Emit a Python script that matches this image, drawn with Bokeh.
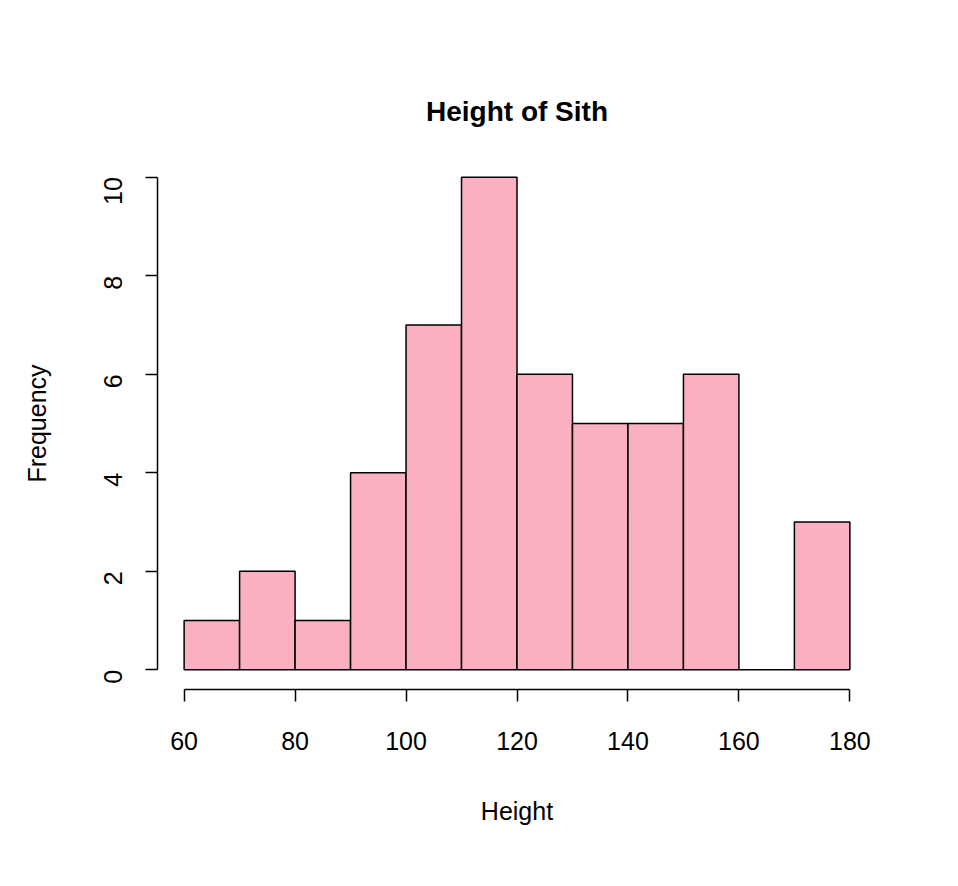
import math
from bokeh.plotting import figure
from bokeh.models import Range1d, FixedTicker
from bokeh.embed import file_html
from bokeh.resources import INLINE

# histogram of heights, bins of 10
bin_left = [60, 70, 80, 90, 100, 110, 120, 130, 140, 150, 160, 170]
bin_right = [70, 80, 90, 100, 110, 120, 130, 140, 150, 160, 170, 180]
counts = [1, 2, 1, 4, 7, 10, 6, 5, 5, 6, 0, 3]
x_ticks = [60, 80, 100, 120, 140, 160, 180]
y_ticks = [0, 2, 4, 6, 8, 10]

FONT = "Liberation Sans"

p = figure(width=942, height=870, output_backend="svg", toolbar_location=None,
           x_range=Range1d(55.2, 184.8), y_range=Range1d(-0.4, 10.4),
           min_border_left=157, min_border_right=66, min_border_top=157, min_border_bottom=181,
           title="Height of Sith")
p.outline_line_color = None
p.grid.visible = False
p.background_fill_color = "white"

p.title.align = "center"
p.title.text_font = FONT
p.title.text_font_size = "28px"
p.title.text_font_style = "bold"
p.title.text_color = "black"
p.title.standoff = 62

p.quad(left=bin_left, right=bin_right, bottom=0, top=counts,
       fill_color="#FBB0C2", line_color="black", line_width=1.5)

for ax, ticks in ((p.xaxis[0], x_ticks), (p.yaxis[0], y_ticks)):
    ax.ticker = FixedTicker(ticks=ticks)
    ax.bounds = (ticks[0], ticks[-1])
    ax.major_tick_out = 12
    ax.major_tick_in = 0
    ax.minor_tick_out = 0
    ax.minor_tick_in = 0
    ax.axis_line_width = 1.5
    ax.major_tick_line_width = 1.5
    ax.major_label_text_font = FONT
    ax.major_label_text_font_size = "25px"
    ax.major_label_text_color = "black"
    ax.axis_label_text_font = FONT
    ax.axis_label_text_font_size = "25px"
    ax.axis_label_text_font_style = "normal"
    ax.axis_label_text_color = "black"

p.xaxis.axis_label = "Height"
p.xaxis.major_label_standoff = 30
p.xaxis.axis_label_standoff = 44
p.yaxis.axis_label = "Frequency"
p.yaxis.major_label_orientation = math.pi / 2
p.yaxis.major_label_standoff = 32
p.yaxis.axis_label_standoff = 42

open("out.html", "w").write(file_html(p, INLINE))
